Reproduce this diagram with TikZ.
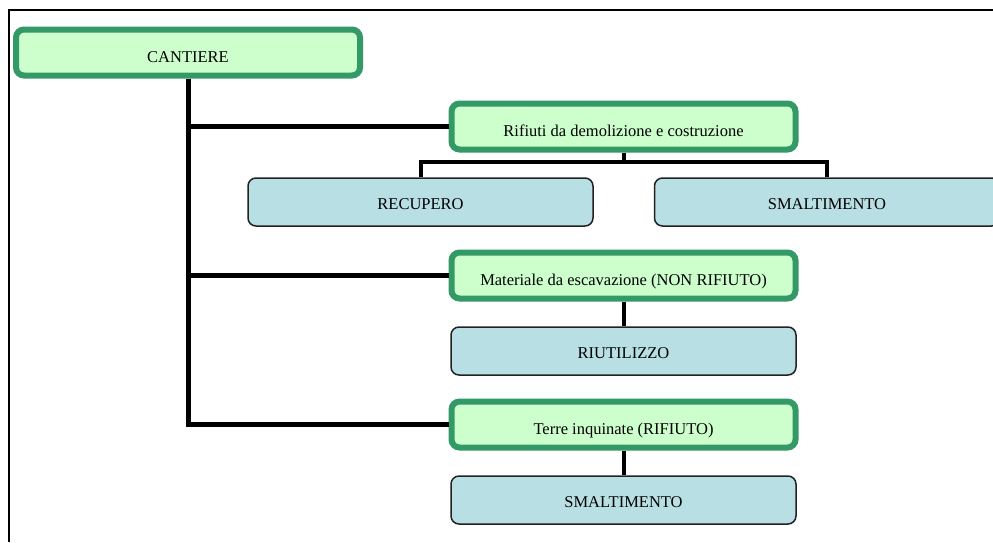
\documentclass[tikz,border=0pt]{standalone}
\usepackage{fontspec}
\setmainfont{Liberation Serif}
\usetikzlibrary{positioning}
\definecolor{boxgreen}{RGB}{204,255,204}
\definecolor{edgegreen}{RGB}{51,153,102}
\definecolor{boxblue}{RGB}{184,223,227}
\definecolor{edgegray}{RGB}{34,34,34}
\tikzset{
  mainbox/.style={draw=edgegreen,fill=boxgreen,line width=6pt,rounded corners=8pt,
    minimum width=344pt,minimum height=46pt,inner sep=0pt,text height=20pt,text depth=0pt,
    font=\fontsize{16.5}{19}\selectfont},
  subbox/.style={draw=edgegray,fill=boxblue,line width=1.5pt,rounded corners=8pt,
    minimum width=345pt,minimum height=48pt,inner sep=0pt,text height=15pt,text depth=0pt,
    font=\fontsize{16.5}{19}\selectfont},
  trunk/.style={line width=5pt},
  twig/.style={line width=4pt}
}
\begin{document}
\begin{tikzpicture}[x=1pt,y=1pt,yscale=-1,xscale=1]
\useasboundingbox (0,0) rectangle (993,542);

%Frame
\draw [line width=2pt] (8.5,542) -- (8.5,10) -- (993,10) ;

%Main boxes
\node [mainbox] (cantiere) at (188,52.5) {CANTIERE};
\node [mainbox] (rifiuti) at (623.5,126.5) {Rifiuti da demolizione e costruzione};
\node [mainbox] (materiale) at (623.5,275.5) {Materiale da escavazione (NON RIFIUTO)};
\node [mainbox] (terre) at (623.5,424.5) {Terre inquinate (RIFIUTO)};

%Sub boxes
\node [subbox] (recupero) at (420.5,202) {RECUPERO};
\node [subbox] (smaltA) at (827,202) {SMALTIMENTO};
\node [subbox] (riutilizzo) at (623.5,351) {RIUTILIZZO};
\node [subbox] (smaltB) at (623.5,500) {SMALTIMENTO};

%Trunk lines
\draw [trunk] (cantiere.south) |- (rifiuti.west) ;
\draw [trunk] (cantiere.south) |- (materiale.west) ;
\draw [trunk] (cantiere.south) |- (terre.west) ;

%Branch lines
\coordinate (split) at (623.5,162);
\draw [twig] (rifiuti.south) -- (split) ;
\draw [twig] (recupero.north) |- (split) -| (smaltA.north) ;
\draw [twig] (materiale.south) -- (riutilizzo.north) ;
\draw [twig] (terre.south) -- (smaltB.north) ;

\end{tikzpicture}
\end{document}
